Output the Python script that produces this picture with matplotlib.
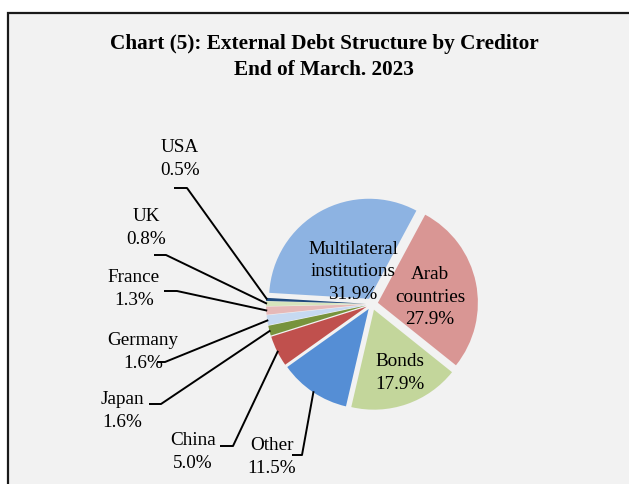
import numpy as np
import matplotlib.pyplot as plt
from matplotlib.patches import Rectangle

plt.rcParams['font.family'] = ['Liberation Serif', 'DejaVu Serif']

# creditor shares, % of total external debt (end of March 2023)
creditors = ['Multilateral\ninstitutions', 'Arab\ncountries', 'Bonds', 'Other', 'China',
             'Japan', 'Germany', 'France', 'UK', 'USA']
shares = [31.9, 27.9, 17.9, 11.5, 5.0, 1.6, 1.6, 1.3, 0.8, 0.5]
colors = ['#8DB3E2', '#D99694', '#C3D69B', '#558ED5', '#C0504D',
          '#77933C', '#C6D9F1', '#E6B9B8', '#D7E4BD', '#1F497D']

W, H = 629, 485  # canvas in pixels, axes use pixel units (y pointing up)


def py(y):
    return H - y


fig = plt.figure(figsize=(W / 100, H / 100), dpi=100)
fig.patch.set_facecolor('white')
ax = fig.add_axes([0, 0, 1, 1])

# chart area with its frame (runs past the right and bottom edges)
ax.add_patch(Rectangle((8, -20), W + 20, py(14) + 20, facecolor='#F2F2F2',
                       edgecolor='#1A1A1A', linewidth=1.6, zorder=0))

cx, cy, rad = 372, py(305), 100
wedges, _ = ax.pie(shares, colors=colors, center=(cx, cy), radius=rad,
                   explode=[6] * len(shares), startangle=176.6, counterclock=False,
                   wedgeprops=dict(linewidth=0), frame=True)

ax.set_xlim(0, W)
ax.set_ylim(0, H)
ax.set_aspect('equal')
ax.axis('off')

lbl = dict(fontsize=13.8, ha='center', va='center', linespacing=1.42, color='black')

# labels inside the three big slices
inner_pos = {0: (353, 272), 1: (430, 297), 2: (400, 373)}
for i, (x, y) in inner_pos.items():
    ax.text(x, py(y), f'{creditors[i]}\n{shares[i]:.1f}%', **lbl)

# labels outside the small slices, with leader lines
outer_pos = {3: (272, 457), 4: (193, 452), 5: (122, 411), 6: (143, 352),
             7: (134, 289), 8: (146, 228), 9: (180, 159)}
stubs = {3: (292, 302, 456), 4: (220, 233, 447), 5: (149, 161, 405), 6: (157, 165, 363),
         7: (164, 177, 292), 8: (154, 166, 256), 9: (174, 187, 189)}
for i, (x, y) in outer_pos.items():
    ax.text(x, py(y), f'{creditors[i]}\n{shares[i]:.1f}%', **lbl)
    w = wedges[i]
    mid = np.deg2rad((w.theta1 + w.theta2) / 2)
    ex = w.center[0] + (w.r - 1) * np.cos(mid)
    ey = w.center[1] + (w.r - 1) * np.sin(mid)
    x0, x1, ys = stubs[i]
    ax.plot([x0, x1, ex], [py(ys), py(ys), ey], color='black', lw=1.4,
            solid_capstyle='butt', zorder=5)

ax.text(324, py(57), 'Chart (5): External Debt Structure by Creditor\nEnd of March. 2023',
        fontsize=15.3, fontweight='bold', ha='center', va='center', linespacing=1.38)

fig.savefig('out.png', dpi=100, facecolor=fig.get_facecolor())
